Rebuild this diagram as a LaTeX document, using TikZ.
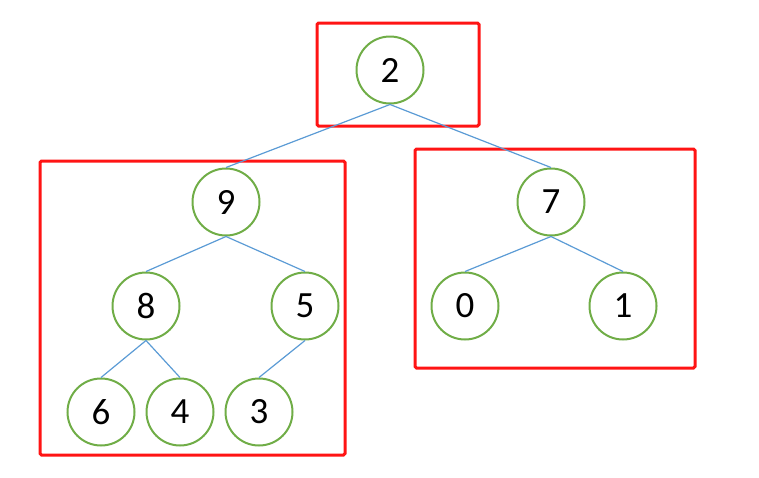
\documentclass[tikz,border=0pt]{standalone}
\usepackage{fontspec}
\setmainfont{Carlito}
\definecolor{ngreen}{RGB}{112,173,71}
\definecolor{eblue}{RGB}{91,155,213}
\definecolor{bred}{RGB}{255,20,20}
\begin{document}
\begin{tikzpicture}[x=1pt,y=-1pt,
  tnode/.style={circle,draw=ngreen,line width=2pt,minimum size=67pt,inner sep=0pt,font=\fontsize{37}{40}\selectfont},
  edge/.style={draw=eblue,line width=1.2pt},
  group/.style={draw=bred,line width=3pt,rounded corners=1.5pt}]
\useasboundingbox (0,0) rectangle (759,477);
\draw[group] (317,23) rectangle (479,126);
\draw[group] (40,161) rectangle (345,455);
\draw[group] (415,149) rectangle (695,368);
\node[tnode] (n2) at (390,70) {2};
\node[tnode] (n9) at (226,202) {9};
\node[tnode] (n7) at (551,202) {7};
\node[tnode] (n8) at (146,306) {8};
\node[tnode] (n5) at (305,306) {5};
\node[tnode] (n0) at (465,306) {0};
\node[tnode] (n1) at (623,306) {1};
\node[tnode] (n6) at (101,412) {6};
\node[tnode] (n4) at (180,412) {4};
\node[tnode] (n3) at (259,412) {3};
\draw[edge] (n2.south) -- (n9.north);
\draw[edge] (n2.south) -- (n7.north);
\draw[edge] (n9.south) -- (n8.north);
\draw[edge] (n9.south) -- (n5.north);
\draw[edge] (n7.south) -- (n0.north);
\draw[edge] (n7.south) -- (n1.north);
\draw[edge] (n8.south) -- (n6.north);
\draw[edge] (n8.south) -- (n4.north);
\draw[edge] (n5.south) -- (n3.north);
\end{tikzpicture}
\end{document}
